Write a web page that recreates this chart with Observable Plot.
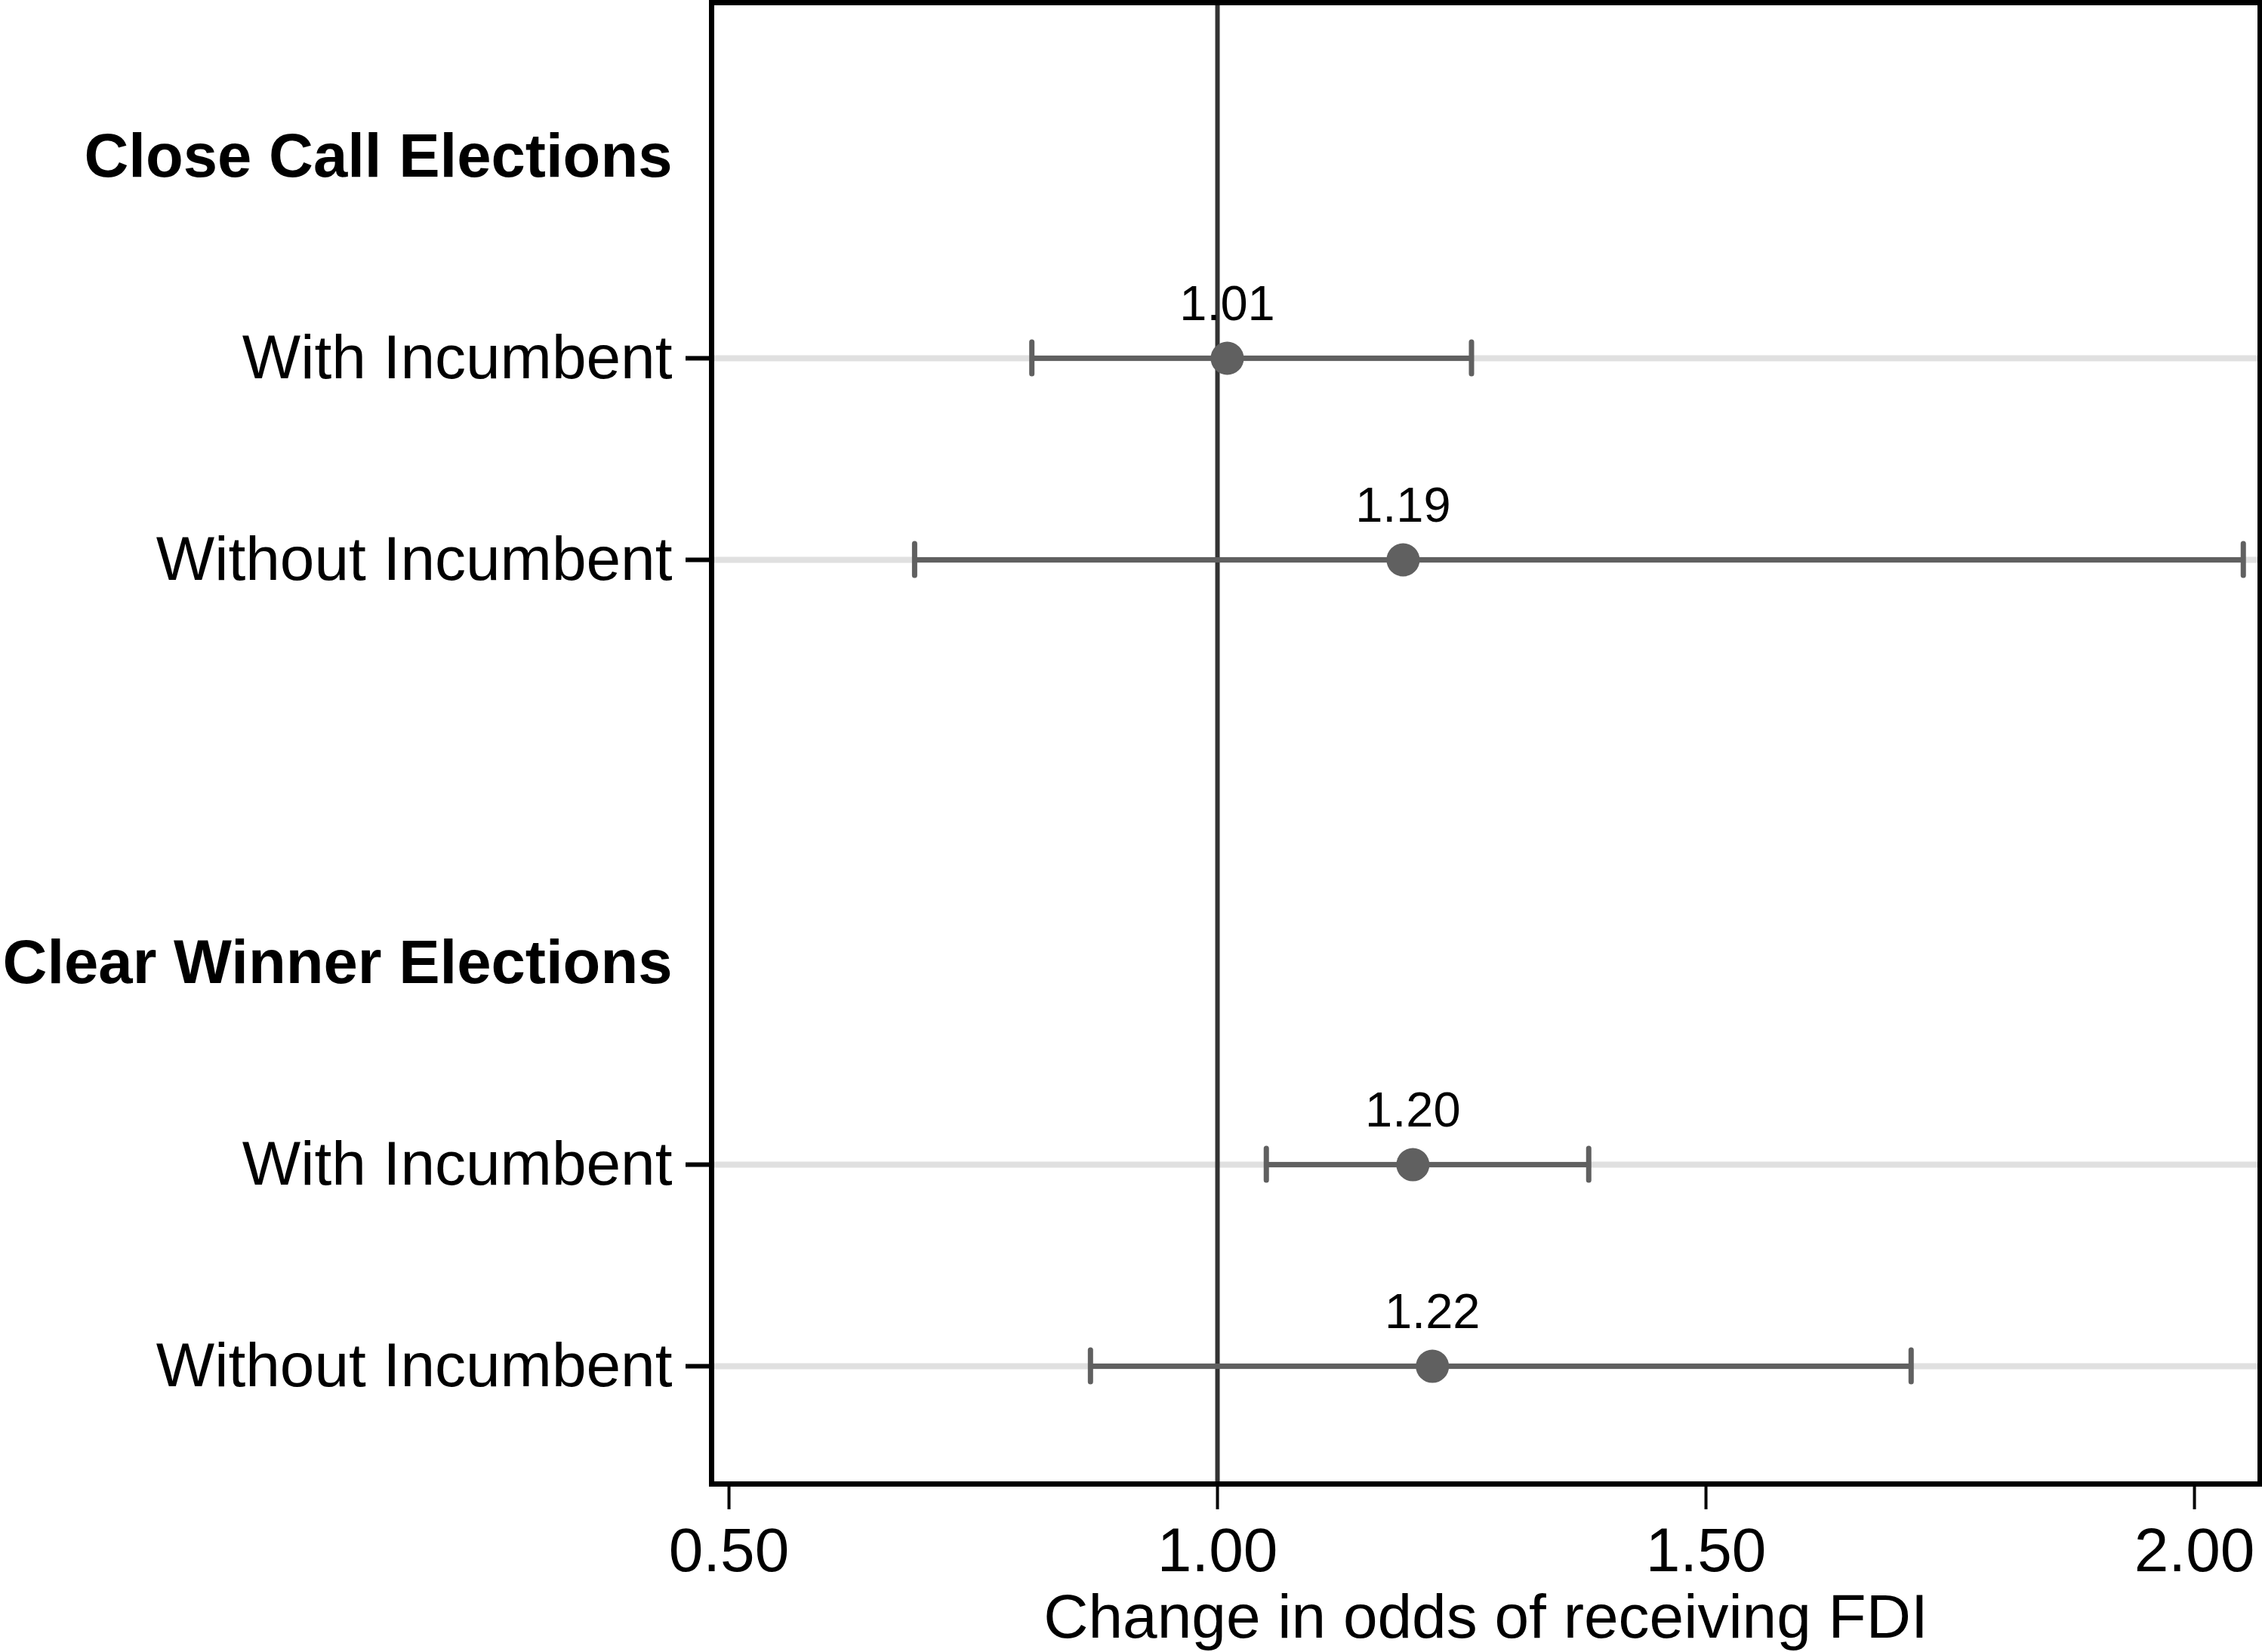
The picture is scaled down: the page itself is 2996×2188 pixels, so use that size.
<!DOCTYPE html>
<html>
<head>
<meta charset="utf-8">
<script src="https://cdn.jsdelivr.net/npm/d3@7"></script>
<script src="https://cdn.jsdelivr.net/npm/@observablehq/plot@0.6"></script>
<style>
  html, body { margin: 0; padding: 0; background: #fff; overflow: hidden; }
  #chart svg { display: block; }
</style>
</head>
<body>
<div id="chart"></div>
<script>
// ---- data ----
const groups = ["Close Call Elections", "Clear Winner Elections"];
const rowGroup = [0, 0, 1, 1];
const rowLabels = ["With Incumbent", "Without Incumbent", "With Incumbent", "Without Incumbent"];
const estimates = [1.01, 1.19, 1.20, 1.22];
const lower = [0.81, 0.69, 1.05, 0.87];
const upper = [1.26, 2.05, 1.38, 1.71];
const xTicks = [0.5, 1.0, 1.5, 2.0];
const xTitle = "Change in odds of receiving FDI";
const refValue = 1.0;

// ---- layout of rows: each group = header, its rows, then a gap ----
const groupStart = groups.map((g, i) => i * 4);
const rows = rowLabels.map((label, i) => {
  const g = rowGroup[i];
  const within = rowGroup.slice(0, i).filter(v => v === g).length;
  return {label, pos: groupStart[g] + 1 + within, est: estimates[i], lo: lower[i], hi: upper[i]};
});
const headers = groups.map((g, i) => ({label: g, pos: groupStart[i]}));
const rowLabelByPos = new Map(rows.map(r => [r.pos, r.label]));
const headerByPos = new Map(headers.map(h => [h.pos, h.label]));

const ink = "#606060";

const chart = Plot.plot({
  width: 2996,
  height: 2188,
  marginLeft: 942,
  marginRight: 3,
  marginTop: 3,
  marginBottom: 223,
  style: {fontFamily: "'Liberation Sans', Helvetica, Arial, sans-serif", background: "white", color: "black"},
  x: {domain: [0.4822, 2.0672]},
  y: {domain: [-0.764, 6.584], reverse: true},
  marks: [
    // light row guides
    Plot.ruleY(rows, {y: "pos", stroke: "#e0e0e0", strokeWidth: 8}),
    // reference line
    Plot.ruleX([refValue], {stroke: "#333333", strokeWidth: 6}),
    // CI lines
    Plot.ruleY(rows, {y: "pos", x1: "lo", x2: "hi", stroke: ink, strokeWidth: 7}),
    // CI caps
    Plot.ruleX(rows, {x: "lo", y1: "pos", y2: "pos", insetTop: -21, insetBottom: -21, stroke: ink, strokeWidth: 7, strokeLinecap: "round"}),
    Plot.ruleX(rows, {x: "hi", y1: "pos", y2: "pos", insetTop: -21, insetBottom: -21, stroke: ink, strokeWidth: 7, strokeLinecap: "round"}),
    // points
    Plot.dot(rows, {x: "est", y: "pos", r: 22, fill: ink, stroke: null}),
    // value labels
    Plot.text(rows, {x: "est", y: "pos", text: d => d.est.toFixed(2), dy: -51, lineAnchor: "bottom", fontSize: 65, fill: "black"}),
    // frame
    Plot.frame({stroke: "black", strokeWidth: 7}),
    // x axis
    Plot.axisX({ticks: xTicks, tickFormat: d3.format(".2f"), tickSize: 34, tickPadding: 23, strokeWidth: 4, fontSize: 82, label: null, stroke: "black", fill: "black"}),
    Plot.text([xTitle], {text: d => d, frameAnchor: "bottom", dy: 145, lineAnchor: "top", fontSize: 82, fill: "black"}),
    // y axis: rows
    Plot.axisY({ticks: rows.map(r => r.pos), tickFormat: p => rowLabelByPos.get(p), tickSize: 34, tickPadding: 18, strokeWidth: 6, fontSize: 82, label: null, stroke: "black", fill: "black"}),
    // y axis: group headers
    Plot.axisY({ticks: headers.map(h => h.pos), tickFormat: p => headerByPos.get(p), tickSize: 0, tickPadding: 52, fontSize: 81.5, fontWeight: "bold", label: null, fill: "black"})
  ]
});
document.getElementById("chart").appendChild(chart);
</script>
</body>
</html>
